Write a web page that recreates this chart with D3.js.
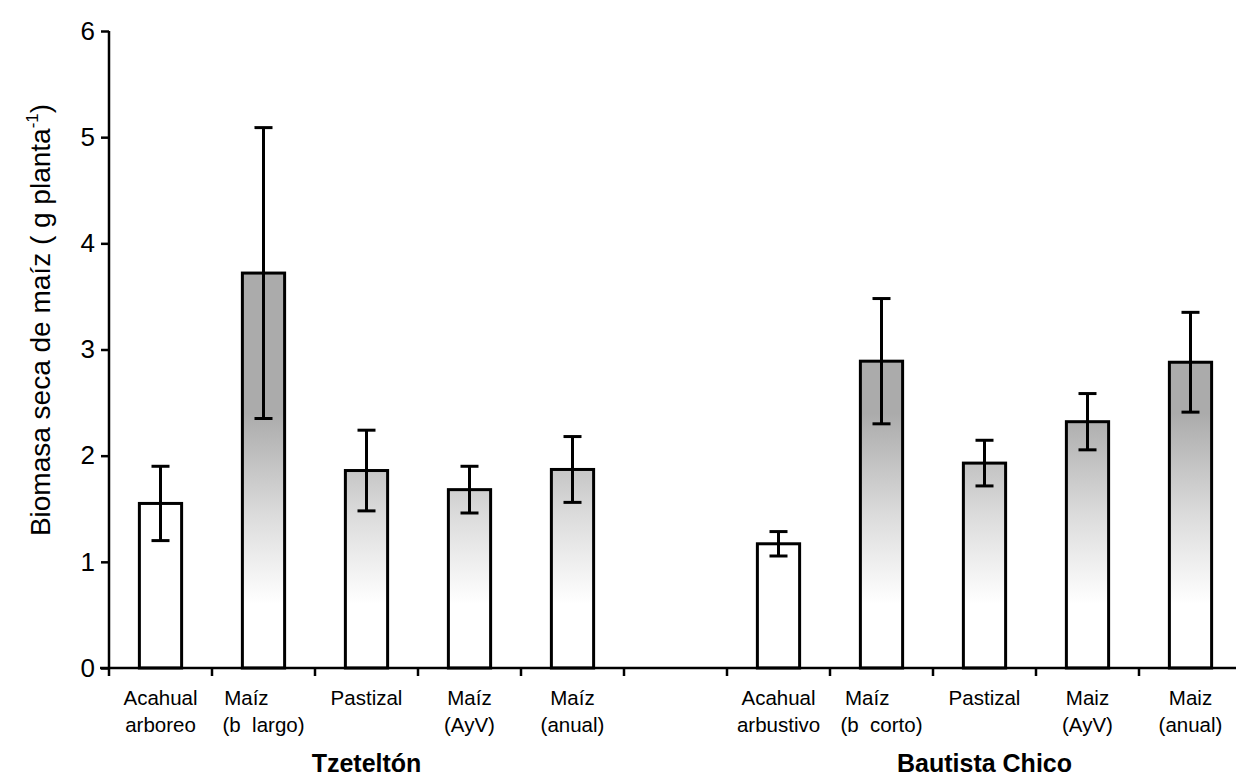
<!DOCTYPE html>
<html>
<head>
<meta charset="utf-8">
<script src="https://cdn.jsdelivr.net/npm/d3@7"></script>
<style>
  body { margin: 0; background: #fff; }
  text { font-family: "Liberation Sans", Arial, sans-serif; fill: #000; }
</style>
</head>
<body>
<svg id="chart"></svg>
<script>
const width = 1236;
const height = 779;

// slots along the x axis (one empty slot separates the two sites)
const slots = ['t1', 't2', 't3', 't4', 't5', 'gap', 'b1', 'b2', 'b3', 'b4', 'b5'];
const barSlots = ['t1', 't2', 't3', 't4', 't5', 'b1', 'b2', 'b3', 'b4', 'b5'];
const labelLines = [
  ['Acahual', 'arboreo'], ['Maíz\u00a0\u00a0\u00a0\u00a0\u00a0\u00a0', '(b  largo)'], ['Pastizal'], ['Maíz', '(AyV)'], ['Maíz', '(anual)'],
  ['Acahual', 'arbustivo'], ['Maíz\u00a0\u00a0\u00a0\u00a0\u00a0', '(b  corto)'], ['Pastizal'], ['Maiz', '(AyV)'], ['Maiz', '(anual)']
];
const means = [1.55, 3.72, 1.86, 1.68, 1.87, 1.17, 2.89, 1.93, 2.32, 2.88];
const errors = [0.35, 1.37, 0.38, 0.22, 0.31, 0.115, 0.59, 0.215, 0.265, 0.47];
const acahual = [true, false, false, false, false, true, false, false, false, false];
const sites = ['Tzeteltón', 'Bautista Chico'];
const siteCenter = ['t3', 'b3'];
const yTicks = [0, 1, 2, 3, 4, 5, 6];

const svg = d3.select('#chart').attr('width', width).attr('height', height);

const x = d3.scaleBand().domain(slots).range([109, 1242]).paddingInner(0.59).paddingOuter(0.295);
const y = d3.scaleLinear().domain([0, 6]).range([668, 31]);

// stippled grey that fades out toward the base
const defs = svg.append('defs');
const grad = defs.append('linearGradient')
  .attr('id', 'shade')
  .attr('gradientUnits', 'userSpaceOnUse')
  .attr('x1', 0).attr('x2', 0)
  .attr('y1', y(0.6)).attr('y2', y(2.4));
grad.append('stop').attr('offset', '0%').attr('stop-color', '#ffffff');
grad.append('stop').attr('offset', '45%').attr('stop-color', '#dddddd');
grad.append('stop').attr('offset', '100%').attr('stop-color', '#ababab');

const data = barSlots.map((s, i) => ({slot: s, mean: means[i], err: errors[i], plain: acahual[i], lines: labelLines[i]}));

// bars
svg.selectAll('rect.bar').data(data).enter()
  .append('rect')
  .attr('class', 'bar')
  .attr('x', d => x(d.slot))
  .attr('y', d => y(d.mean))
  .attr('width', x.bandwidth())
  .attr('height', d => y(0) - y(d.mean))
  .attr('fill', d => d.plain ? '#fff' : 'url(#shade)')
  .attr('stroke', '#000')
  .attr('stroke-width', 3);

// error bars
const eb = svg.selectAll('g.err').data(data).enter().append('g').attr('class', 'err');
eb.append('line')
  .attr('x1', d => x(d.slot) + x.bandwidth() / 2)
  .attr('x2', d => x(d.slot) + x.bandwidth() / 2)
  .attr('y1', d => y(d.mean - d.err))
  .attr('y2', d => y(d.mean + d.err))
  .attr('stroke', '#000').attr('stroke-width', 3);
[1, -1].forEach(sign => {
  eb.append('line')
    .attr('x1', d => x(d.slot) + x.bandwidth() / 2 - 9)
    .attr('x2', d => x(d.slot) + x.bandwidth() / 2 + 9)
    .attr('y1', d => y(d.mean + sign * d.err))
    .attr('y2', d => y(d.mean + sign * d.err))
    .attr('stroke', '#000').attr('stroke-width', 3);
});

// y axis
const yAxis = svg.append('g')
  .attr('transform', `translate(${x.range()[0]},0)`)
  .call(d3.axisLeft(y).tickValues(yTicks).tickSize(8).tickPadding(6).tickFormat(d3.format('d')));
yAxis.select('.domain').remove();
yAxis.append('line').attr('x1', 0).attr('x2', 0).attr('y1', y(6)).attr('y2', y(0) + 8)
  .attr('stroke', '#000').attr('stroke-width', 2.5);
yAxis.selectAll('.tick line').attr('stroke', '#000').attr('stroke-width', 2.5);
yAxis.selectAll('.tick text').attr('font-size', 26).style('font-family', '"Liberation Sans", Arial, sans-serif');

// x axis: ticks at slot boundaries
const bounds = slots.map(s => x(s) - x.step() * x.paddingInner() / 2).concat([x.range()[1]]);
const xAxis = svg.append('g');
xAxis.append('line').attr('x1', 100).attr('x2', 1242).attr('y1', y(0)).attr('y2', y(0))
  .attr('stroke', '#000').attr('stroke-width', 2.5);
xAxis.selectAll('line.tk').data(bounds.slice(1)).enter().append('line')
  .attr('class', 'tk')
  .attr('x1', d => d).attr('x2', d => d)
  .attr('y1', y(0)).attr('y2', y(0) + 8)
  .attr('stroke', '#000').attr('stroke-width', 2.5);

// category labels
const lbl = svg.selectAll('text.cat').data(data).enter().append('text')
  .attr('class', 'cat')
  .attr('text-anchor', 'middle')
  .attr('font-size', 20.5)
  .style('white-space', 'pre');
lbl.selectAll('tspan').data(d => d.lines.map(t => ({t, cx: x(d.slot) + x.bandwidth() / 2}))).enter()
  .append('tspan')
  .attr('x', d => d.cx)
  .attr('y', (d, i) => 705 + i * 27)
  .text(d => d.t);

// site labels
svg.selectAll('text.site').data(sites).enter().append('text')
  .attr('class', 'site')
  .attr('x', (d, i) => x(siteCenter[i]) + x.bandwidth() / 2)
  .attr('y', 772)
  .attr('text-anchor', 'middle')
  .attr('font-size', 25)
  .attr('font-weight', 'bold')
  .text(d => d);

// y title
const yt = svg.append('text')
  .attr('transform', `translate(50,320) rotate(-90)`)
  .attr('text-anchor', 'middle')
  .attr('font-size', 28);
yt.append('tspan').text('Biomasa seca de maíz ( g planta');
yt.append('tspan').attr('font-size', 17).attr('dy', -12).text('-1');
yt.append('tspan').attr('dy', 12).text(')');
</script>
</body>
</html>
